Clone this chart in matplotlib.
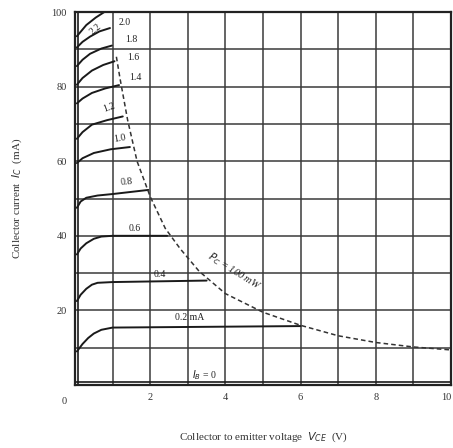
import matplotlib
matplotlib.use("Agg")
import matplotlib.pyplot as plt

plt.rcParams['font.family'] = ['Liberation Serif', 'DejaVu Serif']

# Characteristic curves: base current (mA) -> (Vce points, Ic points)
ib_labels = ["2.2", "2.0", "1.8", "1.6", "1.4", "1.2", "1.0", "0.8", "0.6", "0.4", "0.2 mA"]
curve_v = [
    [0.05, 0.3, 0.55, 0.78],
    [0.05, 0.2, 0.4, 0.65, 0.93],
    [0.05, 0.2, 0.4, 0.7, 0.98],
    [0.05, 0.2, 0.45, 0.75, 1.05],
    [0.05, 0.2, 0.45, 0.8, 1.17],
    [0.05, 0.2, 0.45, 0.85, 1.27],
    [0.05, 0.2, 0.5, 0.95, 1.46],
    [0.05, 0.15, 0.3, 0.6, 1.0, 1.95],
    [0.05, 0.15, 0.3, 0.5, 0.7, 1.0, 2.45],
    [0.05, 0.15, 0.3, 0.45, 0.6, 1.0, 3.5],
    [0.05, 0.2, 0.35, 0.5, 0.7, 1.0, 6.0],
]
curve_i = [
    [93.5, 96.5, 98.5, 100],
    [90.5, 92.0, 93.4, 94.8, 95.7],
    [85.5, 87.2, 88.8, 90.2, 91.0],
    [80.5, 82.3, 84.3, 85.8, 86.8],
    [75.5, 76.8, 78.3, 79.5, 80.4],
    [66.0, 67.8, 69.8, 71.0, 72.0],
    [59.5, 60.8, 62.2, 63.2, 63.8],
    [47.5, 49.2, 50.2, 50.8, 51.2, 52.3],
    [35.0, 36.6, 38.0, 39.2, 39.8, 40.0, 40.0],
    [22.5, 24.2, 25.8, 26.9, 27.4, 27.6, 28.0],
    [9.0, 11.0, 12.6, 13.8, 14.8, 15.4, 15.8],
]
# label positions for the curves (Vce, Ic)
lab_v = [0.55, 1.33, 1.5, 1.56, 1.6, 0.9, 1.2, 1.38, 1.6, 2.25, 3.05]
lab_i = [95.5, 97.3, 92.5, 87.7, 82.5, 74.5, 66.0, 54.5, 42.0, 29.5, 18.2]
lab_rot = [40, 0, 0, 0, 0, 20, 10, 5, 0, 0, 0]

# IB = 0 line
ib0_v = [0.0, 10.0]
ib0_i = [0.7, 0.7]

# Steep saturation edge near Vce = 0
sat_v = [0.08, 0.08]
sat_i = [0.0, 100.0]

# Maximum dissipation Pc = 100 mW (dashed)
pc_v = [1.1, 1.2, 1.4, 1.65, 2.0, 2.4, 2.8, 3.3, 4.0, 5.0, 6.0, 7.0, 8.0, 9.0, 10.0]
pc_i = [88, 82, 71, 60, 50.5, 42, 36.5, 30.5, 24.5, 19.5, 16.0, 13.2, 11.4, 10.2, 9.4]

x_ticks = list(range(0, 11))
y_ticks = list(range(0, 101, 10))
x_ticklabels = ["", "", "2", "", "4", "", "6", "", "8", "", "10"]
y_ticklabels = ["", "", "20", "", "40", "", "60", "", "80", "", "100"]

fig = plt.figure(figsize=(4.53, 4.48), dpi=100)
ax = fig.add_axes([0.1656, 0.1406, 0.8300, 0.8326])
ax.set_xlim(0, 10)
ax.set_ylim(0, 100)

ax.set_xticks(x_ticks)
ax.set_yticks(y_ticks)
ax.set_xticklabels(x_ticklabels, fontsize=7.5, color='#333333')
ax.set_yticklabels(y_ticklabels, fontsize=7.5, color='#333333')
ax.get_xticklabels()[-1].set_horizontalalignment('right')
ax.tick_params(length=0, pad=6)
ax.grid(True, color='#3a3a3a', linewidth=1.1)
ax.set_axisbelow(True)
for s in ax.spines.values():
    s.set_linewidth(1.6)
    s.set_color('#222222')

for v, i in zip(curve_v, curve_i):
    ax.plot(v, i, color='#1a1a1a', linewidth=1.4, solid_capstyle='round')
ax.plot(ib0_v, ib0_i, color='#1a1a1a', linewidth=1.2)
ax.plot(sat_v, sat_i, color='#1a1a1a', linewidth=1.2)
ax.plot(pc_v, pc_i, color='#333333', linewidth=1.1, linestyle=(0, (3, 2)))

for t, x, y, r in zip(ib_labels, lab_v, lab_i, lab_rot):
    ax.text(x, y, t, fontsize=7, ha='center', va='center', rotation=r,
            color='#222222')

ax.text(4.25, 30.5, "$P_C$ = 100 mW", fontsize=7.5, rotation=-32,
        ha='center', va='center', color='#222222', style='italic')
ax.text(3.45, 2.6, "$I_B$ = 0", fontsize=7, ha='center', va='center', color='#222222')

ax.annotate("0", xy=(0, 0), xytext=(-8, -12), textcoords='offset points',
            fontsize=7.5, ha='center', va='center', color='#333333')

ax.set_xlabel("Collector to emitter voltage  $V_{CE}$  (V)", fontsize=8,
              color='#333333', labelpad=20)
ax.set_ylabel("Collector current  $I_C$  (mA)", fontsize=8,
              color='#333333', labelpad=20)

fig.savefig("out.png", dpi=100)
